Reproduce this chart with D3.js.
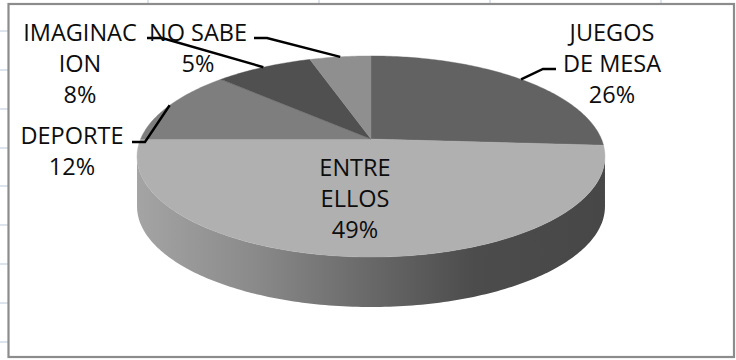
<!DOCTYPE html>
<html>
<head>
<meta charset="utf-8">
<script src="https://cdn.jsdelivr.net/npm/d3@7"></script>
<style>html,body{margin:0;padding:0;background:#fff;overflow:hidden}svg{display:block}</style>
</head>
<body>
<svg id="c" width="736" height="360"></svg>
<script>
const categories = ["JUEGOS DE MESA", "ENTRE ELLOS", "DEPORTE", "IMAGINACION", "NO SABE"];
const values = [26, 49, 12, 8, 5];
const labelLines = [["JUEGOS", "DE MESA", "26%"], ["ENTRE", "ELLOS", "49%"], ["DEPORTE", "12%"], ["IMAGINAC", "ION", "8%"], ["NO SABE", "5%"]];
const colors = ["#626262", "#b0b0b0", "#7e7e7e", "#505050", "#8f8f8f"];
const sheetRows = [31, 70, 109, 148, 186, 225, 264, 303, 342];
const sheetCols = [148, 319, 490, 661];

// layout
const labelX = [612, 355, 72, 80, 198];
const labelY = [41, 176, 144, 41, 41];
const elbow = [[543, 69, 556], null, [145, 142, 132], [162, 38, 147], [267, 38, 254]];
const cx = 371, cy = 139, a = 97.5, b = 230.4, k = 0.174, depth = 50;

const svg = d3.select("#c");
const x = d3.scaleLinear().domain([-1, 1]).range([cx - b, cx + b]);
const y = d3.scaleLinear().domain([-1, 1]).range([cy + a, cy - a]);
const proj = t => {
  const d = 1 + k * Math.cos(t);
  return [x(Math.sin(t) / d), y(Math.cos(t) / d)];
};
const arcPts = (t0, t1) => {
  const n = Math.max(2, Math.ceil(Math.abs(t1 - t0) * 60));
  return d3.range(n + 1).map(i => proj(t0 + (t1 - t0) * i / n));
};
const line = d3.line();
const slices = d3.pie().sort(null).value(d => d)(values);

// spreadsheet gridlines behind the chart
svg.append("g").attr("stroke", "#d3dbe9").attr("stroke-width", 1.5)
  .call(g => g.selectAll(".r").data(sheetRows).join("line").attr("x1", 0).attr("x2", 9).attr("y1", d => d).attr("y2", d => d))
  .call(g => g.selectAll(".c").data(sheetCols).join("line").attr("y1", 0).attr("y2", 4).attr("x1", d => d).attr("x2", d => d));

// chart frame
svg.append("rect").attr("x", 8.5).attr("y", 4).attr("width", 725.5).attr("height", 353)
  .attr("fill", "#fff").attr("stroke", "#8c8c8c").attr("stroke-width", 2.2);

// gradient for the side wall
const grad = svg.append("defs").append("linearGradient").attr("id", "side")
  .attr("gradientUnits", "userSpaceOnUse").attr("x1", 138).attr("x2", 605).attr("y1", 0).attr("y2", 0);
[[0, "#a4a4a4"], [0.25, "#8a8a8a"], [0.5, "#686868"], [0.72, "#4c4c4c"], [1, "#474747"]]
  .forEach(s => grad.append("stop").attr("offset", s[0]).attr("stop-color", s[1]));

// side wall: visible lower part of the rim
const t0 = Math.acos(-k), t1 = 2 * Math.PI - t0;
const topEdge = arcPts(t0, t1);
const bottomEdge = topEdge.slice().reverse().map(p => [p[0], p[1] + depth]);
svg.append("path").attr("d", line(topEdge.concat(bottomEdge)) + "Z").attr("fill", "url(#side)");

// top face
svg.append("g").selectAll("path").data(slices).join("path")
  .attr("d", s => line([[x(0), y(0)]].concat(arcPts(s.startAngle, s.endAngle))) + "Z")
  .attr("fill", (s, i) => colors[i])
  .attr("stroke", (s, i) => colors[i]).attr("stroke-width", 0.4);

// leader lines
svg.append("g").selectAll("path").data(slices.filter((s, i) => elbow[i])).join("path")
  .attr("d", s => {
    const e = elbow[s.index];
    return line([proj((s.startAngle + s.endAngle) / 2), [e[0], e[1]], [e[2], e[1]]]);
  })
  .attr("fill", "none").attr("stroke", "#000").attr("stroke-width", 2.4);

// labels
const lh = 31;
svg.append("g").selectAll("text").data(labelLines).join("text")
  .attr("text-anchor", "middle")
  .attr("font-family", "'Open Sans', 'Noto Sans', sans-serif")
  .attr("font-size", 23.5).attr("fill", "#0d0d0d")
  .each(function (lines, i) {
    d3.select(this).selectAll("tspan").data(lines).join("tspan")
      .attr("x", labelX[i]).attr("y", (d, j) => labelY[i] + j * lh).text(d => d);
  });
</script>
</body>
</html>
